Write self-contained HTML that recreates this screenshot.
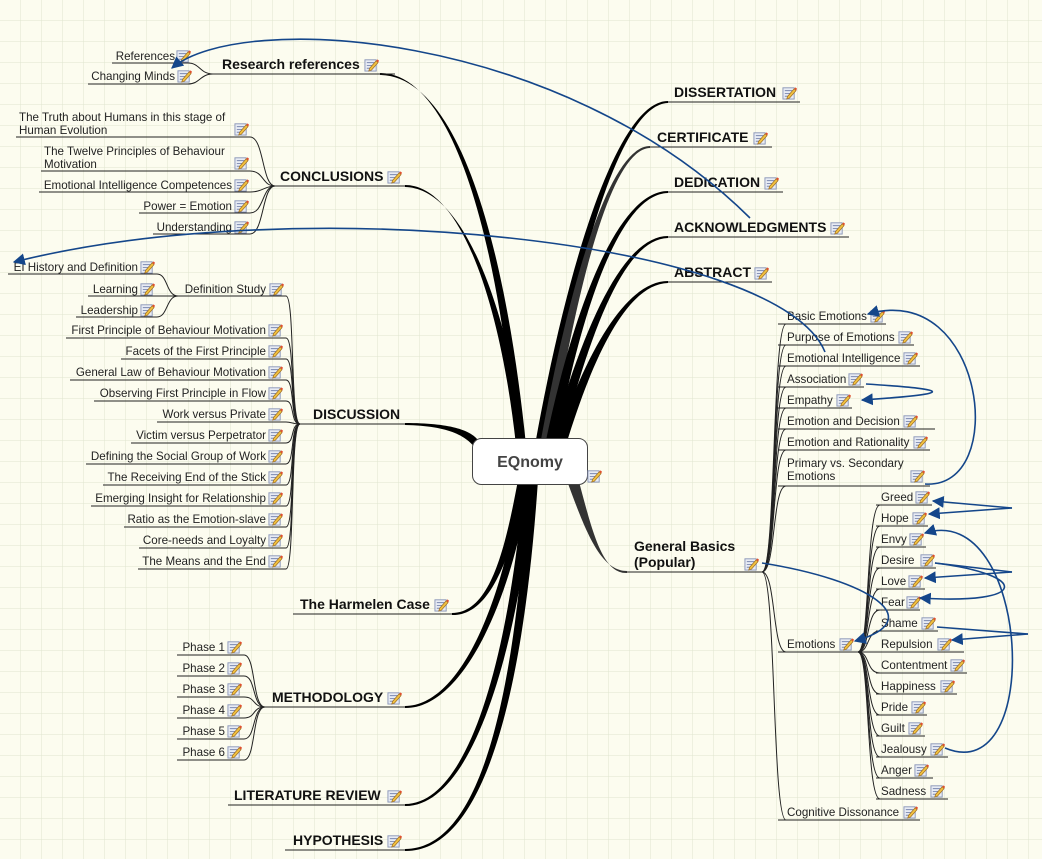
<!DOCTYPE html>
<html><head><meta charset="utf-8"><style>
html,body{margin:0;padding:0;background:#fcfcef;}
svg{display:block}
text{font-family:"Liberation Sans",sans-serif;fill:#222;font-size:11.6px}
.b{font-weight:bold;font-size:14px;fill:#111}
.e{text-anchor:end}
.u{stroke:#222;stroke-width:1;fill:none}
.c{stroke:#222;stroke-width:1;fill:none}
.a{stroke:#14468a;stroke-width:1.6;fill:none}
.br{fill:#000}
</style></head><body>
<svg width="1042" height="859" viewBox="0 0 1042 859" xmlns="http://www.w3.org/2000/svg">
<defs>
<pattern id="g" width="21" height="21" patternUnits="userSpaceOnUse" x="0" y="0">
<path d="M21 0V21M0 21H21" stroke="#dfe5cf" stroke-width="1" fill="none"/>
</pattern>
<symbol id="i" viewBox="0 0 16 16">
<rect x="1" y="3" width="12" height="12" fill="#e8ecf4" stroke="#8a96b8" stroke-width="1"/>
<path d="M3 6H11M3 9H11M3 12H9" stroke="#7a88b0" stroke-width="1"/>
<path d="M6 12L13 4L15 6L8 14L5 15Z" fill="#f0c040" stroke="#9a6a20" stroke-width="0.7"/>
<path d="M13 4L14.5 2.5L16 4L15 6Z" fill="#e05030"/>
</symbol>
<marker id="m2" viewBox="0 0 10 10" refX="9" refY="5" markerWidth="12" markerHeight="12" orient="auto" markerUnits="userSpaceOnUse">
<path d="M0 0L10 5L0 10Z" fill="#14468a"/>
</marker>
</defs>
<rect width="1042" height="859" fill="#fcfcef"/>
<rect width="1042" height="859" fill="url(#g)"/>

<g class="br">
<path d="M380,73 C455,73 500,250 516,445 L526,445 C506,250 460,76 380,75Z"/>
<path d="M405,185 C460,185 500,300 516,445 L526,445 C506,300 462,188 405,187Z"/>
<path d="M405,423 C450,423 470,430 478,440 L478,452 C468,436 450,426 405,425Z"/>
<path d="M452,613 C490,613 505,550 518,480 L528,480 C512,552 492,616 452,615Z"/>
<path d="M405,706 C460,706 505,600 520,480 L530,480 C512,602 462,709 405,708Z"/>
<path d="M405,804 C470,804 510,650 524,480 L534,480 C518,652 472,807 405,806Z"/>
<path d="M405,849 C480,849 515,700 528,480 L538,480 C523,702 482,852 405,851Z"/>
<path d="M668,101 C620,101 570,250 535,445 L546,445 C578,250 622,104 668,103Z"/>
<path d="M650,146 C610,146 570,280 540,445 L551,445 C578,280 612,149 650,148Z" fill="#333"/>
<path d="M668,191 C620,191 575,300 545,445 L556,445 C583,300 622,194 668,193Z"/>
<path d="M668,236 C625,236 585,320 550,445 L561,445 C593,320 627,239 668,238Z"/>
<path d="M668,281 C630,281 590,340 555,445 L566,445 C598,340 632,284 668,283Z"/>
<path d="M627,571 C600,571 585,530 566,478 L578,478 C592,530 602,574 627,573Z" fill="#333"/>
</g>

<rect x="472.5" y="438.5" width="115" height="46" rx="9" fill="#fff" stroke="#444" stroke-width="1"/>
<text x="530" y="467" text-anchor="middle" style="font-weight:bold;font-size:16px;fill:#444">EQnomy</text>
<use href="#i" x="587" y="468" width="15" height="15"/>

<text class="b" x="222" y="69">Research references</text><use href="#i" x="364" y="57" width="15" height="15"/>
<path class="u" d="M213,74H395"/>
<path class="c" d="M213,74C200,74 200,63 188,63M213,74C200,74 200,84 188,84"/>
<text class="e" x="175" y="60">References</text><use href="#i" x="176" y="48" width="15" height="15"/>
<path class="u" d="M112,63H190"/>
<text class="e" x="175" y="80">Changing Minds</text><use href="#i" x="177" y="68" width="15" height="15"/>
<path class="u" d="M88,84H190"/>

<text class="b" x="280" y="181">CONCLUSIONS</text><use href="#i" x="387" y="169" width="15" height="15"/>
<path class="u" d="M275,186H405"/>
<g class="c">
<path d="M275,186C262,186 264,137 250,137"/><path d="M275,186C262,186 264,171 250,171"/><path d="M275,186C265,186 262,192 250,192"/><path d="M275,186C262,186 264,213 250,213"/><path d="M275,186C262,186 264,234 250,234"/>
</g>
<text x="19" y="121">The Truth about Humans in this stage of</text><text x="19" y="134">Human Evolution</text><use href="#i" x="234" y="121" width="15" height="15"/><path class="u" d="M16,137H250"/>
<text x="44" y="155">The Twelve Principles of Behaviour</text><text x="44" y="168">Motivation</text><use href="#i" x="234" y="155" width="15" height="15"/><path class="u" d="M41,171H250"/>
<text class="e" x="232" y="189">Emotional Intelligence Competences</text><use href="#i" x="234" y="177" width="15" height="15"/><path class="u" d="M39,192H250"/>
<text class="e" x="232" y="210">Power = Emotion</text><use href="#i" x="234" y="198" width="15" height="15"/><path class="u" d="M139,213H250"/>
<text class="e" x="232" y="231">Understanding</text><use href="#i" x="234" y="219" width="15" height="15"/><path class="u" d="M153,234H250"/>

<text class="b" x="313" y="419">DISCUSSION</text>
<path class="u" d="M300,424H405"/>
<g class="c">
<path d="M300,424C290,424 295,296 286,296"/>
<path d="M300,424C290,424 295,338 286,338"/><path d="M300,424C290,424 295,359 286,359"/><path d="M300,424C290,424 295,380 286,380"/><path d="M300,424C290,424 295,401 286,401"/><path d="M300,424C292,424 292,422 286,422"/><path d="M300,424C290,424 295,443 286,443"/><path d="M300,424C290,424 295,464 286,464"/><path d="M300,424C290,424 295,485 286,485"/><path d="M300,424C290,424 295,506 286,506"/><path d="M300,424C290,424 295,527 286,527"/><path d="M300,424C290,424 295,548 286,548"/><path d="M300,424C290,424 295,569 286,569"/>
</g>
<text class="e" x="266" y="293">Definition Study</text><use href="#i" x="269" y="281" width="15" height="15"/><path class="u" d="M178,296H286"/>
<g class="c"><path d="M178,296C166,296 168,274 157,274"/><path d="M178,296H157"/><path d="M178,296C166,296 168,317 157,317"/></g>
<text class="e" x="138" y="271">EI History and Definition</text><use href="#i" x="140" y="259" width="15" height="15"/><path class="u" d="M8,274H157"/>
<text class="e" x="138" y="293">Learning</text><use href="#i" x="140" y="281" width="15" height="15"/><path class="u" d="M88,296H157"/>
<text class="e" x="138" y="314">Leadership</text><use href="#i" x="140" y="302" width="15" height="15"/><path class="u" d="M76,317H157"/>

<text class="e" x="266" y="334">First Principle of Behaviour Motivation</text><use href="#i" x="268" y="322" width="15" height="15"/><path class="u" d="M66,338H286"/>
<text class="e" x="266" y="355">Facets of the First Principle</text><use href="#i" x="268" y="343" width="15" height="15"/><path class="u" d="M121,359H286"/>
<text class="e" x="266" y="376">General Law of Behaviour Motivation</text><use href="#i" x="268" y="364" width="15" height="15"/><path class="u" d="M70,380H286"/>
<text class="e" x="266" y="397">Observing First Principle in Flow</text><use href="#i" x="268" y="385" width="15" height="15"/><path class="u" d="M94,401H286"/>
<text class="e" x="266" y="418">Work versus Private</text><use href="#i" x="268" y="406" width="15" height="15"/><path class="u" d="M157,422H286"/>
<text class="e" x="266" y="439">Victim versus Perpetrator</text><use href="#i" x="268" y="427" width="15" height="15"/><path class="u" d="M131,443H286"/>
<text class="e" x="266" y="460">Defining the Social Group of Work</text><use href="#i" x="268" y="448" width="15" height="15"/><path class="u" d="M86,464H286"/>
<text class="e" x="266" y="481">The Receiving End of the Stick</text><use href="#i" x="268" y="469" width="15" height="15"/><path class="u" d="M103,485H286"/>
<text class="e" x="266" y="502">Emerging Insight for Relationship</text><use href="#i" x="268" y="490" width="15" height="15"/><path class="u" d="M91,506H286"/>
<text class="e" x="266" y="523">Ratio as the Emotion-slave</text><use href="#i" x="268" y="511" width="15" height="15"/><path class="u" d="M124,527H286"/>
<text class="e" x="266" y="544">Core-needs and Loyalty</text><use href="#i" x="268" y="532" width="15" height="15"/><path class="u" d="M139,548H286"/>
<text class="e" x="266" y="565">The Means and the End</text><use href="#i" x="268" y="553" width="15" height="15"/><path class="u" d="M138,569H286"/>

<text class="b" x="300" y="609">The Harmelen Case</text><use href="#i" x="434" y="597" width="15" height="15"/><path class="u" d="M293,614H452"/>

<text class="b" x="272" y="702">METHODOLOGY</text><use href="#i" x="387" y="690" width="15" height="15"/><path class="u" d="M265,707H405"/>
<g class="c">
<path d="M265,707C252,707 256,655 244,655"/><path d="M265,707C252,707 256,676 244,676"/><path d="M265,707C252,707 256,697 244,697"/><path d="M265,707C252,707 256,718 244,718"/><path d="M265,707C252,707 256,739 244,739"/><path d="M265,707C252,707 256,760 244,760"/>
</g>
<text class="e" x="225" y="651">Phase 1</text><use href="#i" x="227" y="639" width="15" height="15"/><path class="u" d="M177,655H244"/>
<text class="e" x="225" y="672">Phase 2</text><use href="#i" x="227" y="660" width="15" height="15"/><path class="u" d="M177,676H244"/>
<text class="e" x="225" y="693">Phase 3</text><use href="#i" x="227" y="681" width="15" height="15"/><path class="u" d="M177,697H244"/>
<text class="e" x="225" y="714">Phase 4</text><use href="#i" x="227" y="702" width="15" height="15"/><path class="u" d="M177,718H244"/>
<text class="e" x="225" y="735">Phase 5</text><use href="#i" x="227" y="723" width="15" height="15"/><path class="u" d="M177,739H244"/>
<text class="e" x="225" y="756">Phase 6</text><use href="#i" x="227" y="744" width="15" height="15"/><path class="u" d="M177,760H244"/>

<text class="b" x="234" y="800">LITERATURE REVIEW</text><use href="#i" x="387" y="788" width="15" height="15"/><path class="u" d="M228,805H405"/>
<text class="b" x="293" y="845">HYPOTHESIS</text><use href="#i" x="387" y="833" width="15" height="15"/><path class="u" d="M285,850H405"/>

<text class="b" x="674" y="97">DISSERTATION</text><use href="#i" x="782" y="85" width="15" height="15"/><path class="u" d="M668,102H800"/>
<text class="b" x="657" y="142">CERTIFICATE</text><use href="#i" x="753" y="130" width="15" height="15"/><path class="u" d="M650,147H772"/>
<text class="b" x="674" y="187">DEDICATION</text><use href="#i" x="764" y="175" width="15" height="15"/><path class="u" d="M668,192H783"/>
<text class="b" x="674" y="232">ACKNOWLEDGMENTS</text><use href="#i" x="830" y="220" width="15" height="15"/><path class="u" d="M668,237H849"/>
<text class="b" x="674" y="277">ABSTRACT</text><use href="#i" x="754" y="265" width="15" height="15"/><path class="u" d="M668,282H772"/>

<text class="b" x="634" y="551">General Basics</text><text class="b" x="634" y="567">(Popular)</text><use href="#i" x="744" y="556" width="15" height="15"/><path class="u" d="M627,572H762"/>
<g class="c">
<path d="M762,572C776,572 772,324 786,324"/><path d="M762,572C776,572 772,345 786,345"/><path d="M762,572C776,572 772,366 786,366"/><path d="M762,572C776,572 772,387 786,387"/><path d="M762,572C776,572 772,408 786,408"/><path d="M762,572C776,572 772,429 786,429"/><path d="M762,572C776,572 772,450 786,450"/><path d="M762,572C776,572 772,486 786,486"/><path d="M762,572C776,572 772,652 786,652"/><path d="M762,572C776,572 772,820 786,820"/>
</g>
<text x="787" y="320">Basic Emotions</text><use href="#i" x="870" y="308" width="15" height="15"/><path class="u" d="M778,324H886"/>
<text x="787" y="341">Purpose of Emotions</text><use href="#i" x="898" y="329" width="15" height="15"/><path class="u" d="M778,345H914"/>
<text x="787" y="362">Emotional Intelligence</text><use href="#i" x="903" y="350" width="15" height="15"/><path class="u" d="M778,366H920"/>
<text x="787" y="383">Association</text><use href="#i" x="848" y="371" width="15" height="15"/><path class="u" d="M778,387H864"/>
<text x="787" y="404">Empathy</text><use href="#i" x="836" y="392" width="15" height="15"/><path class="u" d="M778,408H852"/>
<text x="787" y="425">Emotion and Decision</text><use href="#i" x="903" y="413" width="15" height="15"/><path class="u" d="M778,429H935"/>
<text x="787" y="446">Emotion and Rationality</text><use href="#i" x="913" y="434" width="15" height="15"/><path class="u" d="M778,450H930"/>
<text x="787" y="467">Primary vs. Secondary</text><text x="787" y="480">Emotions</text><use href="#i" x="910" y="468" width="15" height="15"/><path class="u" d="M778,486H930"/>
<text x="787" y="648">Emotions</text><use href="#i" x="839" y="636" width="15" height="15"/><path class="u" d="M778,652H858"/>
<text x="787" y="816">Cognitive Dissonance</text><use href="#i" x="903" y="804" width="15" height="15"/><path class="u" d="M778,820H920"/>

<g class="c">
<path d="M858,652C870,652 866,505 880,505"/><path d="M858,652C870,652 866,526 880,526"/><path d="M858,652C870,652 866,547 880,547"/><path d="M858,652C870,652 866,568 880,568"/><path d="M858,652C870,652 866,589 880,589"/><path d="M858,652C870,652 866,610 880,610"/><path d="M858,652C870,652 866,631 880,631"/><path d="M858,652H880"/><path d="M858,652C870,652 866,673 880,673"/><path d="M858,652C870,652 866,694 880,694"/><path d="M858,652C870,652 866,715 880,715"/><path d="M858,652C870,652 866,736 880,736"/><path d="M858,652C870,652 866,757 880,757"/><path d="M858,652C870,652 866,778 880,778"/><path d="M858,652C870,652 866,799 880,799"/>
</g>
<text x="881" y="501">Greed</text><use href="#i" x="915" y="489" width="15" height="15"/><path class="u" d="M876,505H932"/>
<text x="881" y="522">Hope</text><use href="#i" x="912" y="510" width="15" height="15"/><path class="u" d="M876,526H928"/>
<text x="881" y="543">Envy</text><use href="#i" x="909" y="531" width="15" height="15"/><path class="u" d="M876,547H926"/>
<text x="881" y="564">Desire</text><use href="#i" x="920" y="552" width="15" height="15"/><path class="u" d="M876,568H936"/>
<text x="881" y="585">Love</text><use href="#i" x="908" y="573" width="15" height="15"/><path class="u" d="M876,589H925"/>
<text x="881" y="606">Fear</text><use href="#i" x="906" y="594" width="15" height="15"/><path class="u" d="M876,610H920"/>
<text x="881" y="627">Shame</text><use href="#i" x="921" y="615" width="15" height="15"/><path class="u" d="M876,631H938"/>
<text x="881" y="648">Repulsion</text><use href="#i" x="937" y="636" width="15" height="15"/><path class="u" d="M876,652H964"/>
<text x="881" y="669">Contentment</text><use href="#i" x="950" y="657" width="15" height="15"/><path class="u" d="M876,673H967"/>
<text x="881" y="690">Happiness</text><use href="#i" x="940" y="678" width="15" height="15"/><path class="u" d="M876,694H957"/>
<text x="881" y="711">Pride</text><use href="#i" x="911" y="699" width="15" height="15"/><path class="u" d="M876,715H927"/>
<text x="881" y="732">Guilt</text><use href="#i" x="908" y="720" width="15" height="15"/><path class="u" d="M876,736H925"/>
<text x="881" y="753">Jealousy</text><use href="#i" x="930" y="741" width="15" height="15"/><path class="u" d="M876,757H948"/>
<text x="881" y="774">Anger</text><use href="#i" x="914" y="762" width="15" height="15"/><path class="u" d="M876,778H933"/>
<text x="881" y="795">Sadness</text><use href="#i" x="930" y="783" width="15" height="15"/><path class="u" d="M876,799H948"/>

<path class="a" marker-end="url(#m2)" d="M750,218C560,30 240,10 172,68"/>
<path class="a" marker-end="url(#m2)" d="M825,352C780,240 300,190 14,262"/>
<path class="a" marker-end="url(#m2)" d="M925,484C1010,490 985,280 868,314"/>
<path class="a" marker-end="url(#m2)" d="M866,384C960,390 950,394 862,400"/>
<path class="a" marker-end="url(#m2)" d="M1012,508L933,501"/>
<path class="a" marker-end="url(#m2)" d="M1012,508L929,514"/>
<path class="a" marker-end="url(#m2)" d="M945,748C1045,790 1030,500 925,533"/>
<path class="a" d="M935,563L1012,572"/>
<path class="a" marker-end="url(#m2)" d="M1012,572L925,578"/>
<path class="a" marker-end="url(#m2)" d="M935,563C1030,575 1030,605 920,598"/>
<path class="a" d="M937,627L1028,634"/>
<path class="a" marker-end="url(#m2)" d="M1028,634L952,640"/>
<path class="a" marker-end="url(#m2)" d="M762,563C870,580 930,620 855,641"/>
</svg>
</body></html>
